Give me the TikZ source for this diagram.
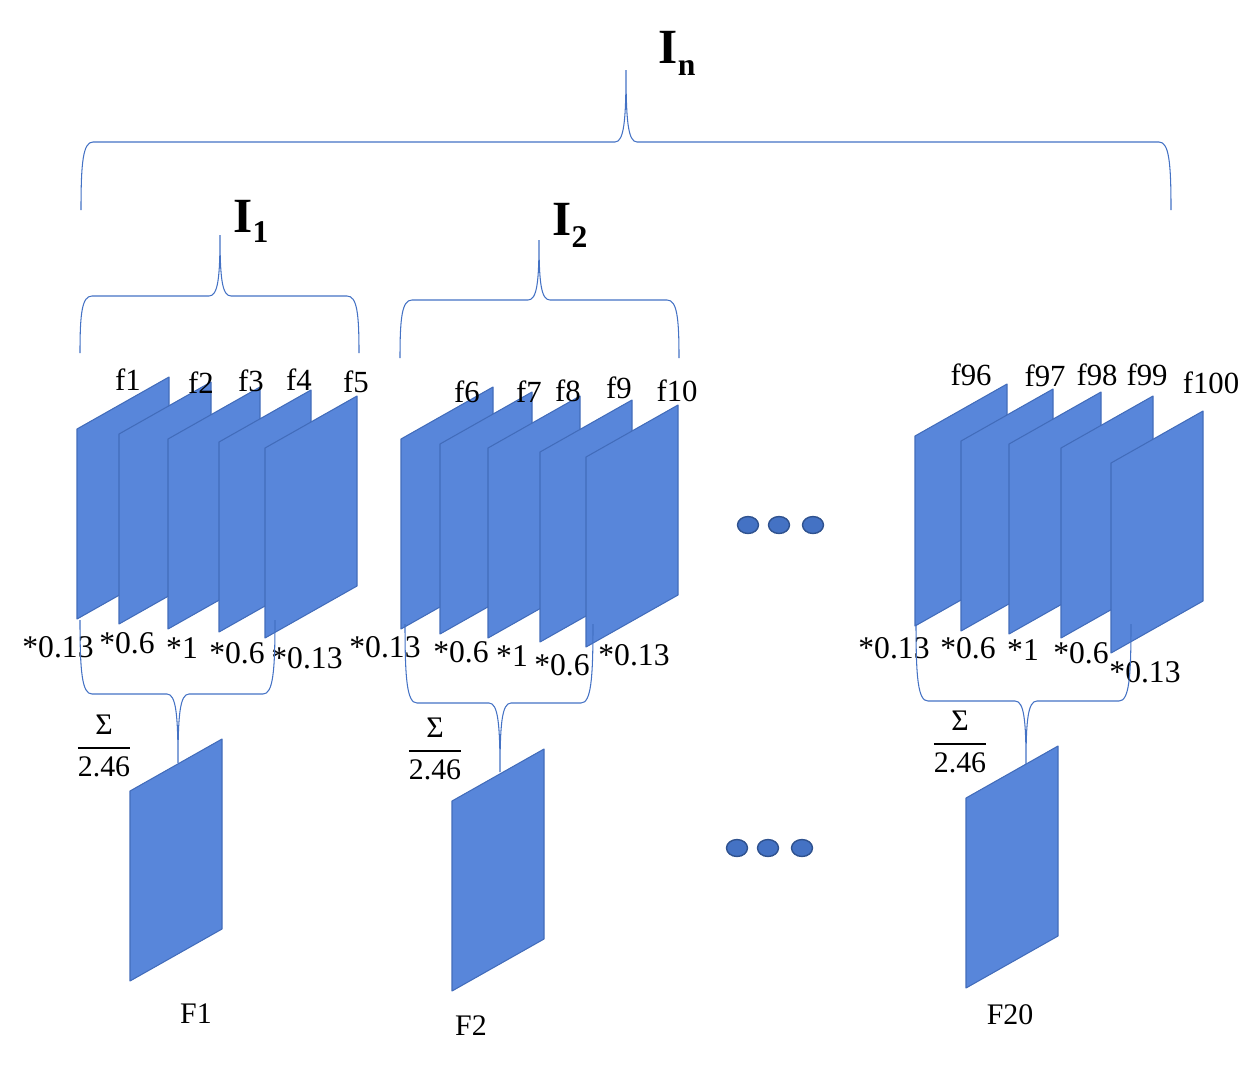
\documentclass[tikz,border=0pt]{standalone}
\usepackage{fontspec}
\setmainfont{Liberation Serif}
\usepackage{amsmath}
\definecolor{plateblue}{RGB}{88,134,218}
\definecolor{plateedge}{RGB}{66,108,186}
\definecolor{braceblue}{RGB}{68,114,196}
\definecolor{dotedge}{RGB}{47,82,143}
\usetikzlibrary{shapes.geometric}

%% one feature map, #1,#2 = upper left corner
\newcommand{\fmap}[2]{\draw[platefill] (#1,#2) -- ++(92,-52) -- ++(0,190) -- ++(-92,52) -- cycle;}
%% curly brace: left x, tip x, right x, arm end y, bar y, tip y
\newcommand{\grpbrace}[6]{%
  \draw[braceline] (#1,#4) .. controls (#1,{#5+0.3*(#4-#5)}) and ({#1+2},#5) .. ({#1+12},#5)
    -- ({#2-11},#5) .. controls ({#2-2},#5) and (#2,{#5+0.3*(#6-#5)}) .. (#2,#6)
    .. controls (#2,{#5+0.3*(#6-#5)}) and ({#2+2},#5) .. ({#2+11},#5)
    -- ({#3-12},#5) .. controls ({#3-2},#5) and (#3,{#5+0.3*(#4-#5)}) .. (#3,#4);}
\newcommand{\avgfrac}{$\displaystyle\genfrac{}{}{1pt}{0}{\text{Σ}}{\text{2.46}}$}

\begin{document}
\begin{tikzpicture}[x=0.02cm, y=-0.02cm,
  platefill/.style={fill=plateblue, draw=plateedge, line width=0.6pt, line join=round},
  braceline/.style={draw=braceblue, line width=0.6pt},
  flab/.style={font=\fontsize{17.5}{20}\selectfont, anchor=base},
  wlab/.style={font=\fontsize{18}{20}\selectfont, anchor=base},
  ilab/.style={font=\fontsize{28}{30}\selectfont\bfseries, anchor=base, inner sep=0pt},
  sumlab/.style={font=\fontsize{17}{20}\selectfont},
  ellipsisdot/.style={ellipse, fill=braceblue, draw=dotedge, line width=0.8pt, minimum width=0.42cm, minimum height=0.34cm, inner sep=0pt}]
  \useasboundingbox (0,0) rectangle (1260,1066);

  %% top braces and their labels
  \grpbrace{81}{626}{1171}{210}{142}{70}
  \grpbrace{80}{220}{359}{353}{296}{235}
  \grpbrace{400}{539}{679}{358}{300}{240}
  \node[ilab] (In) at (677,63) {I\raisebox{-0.25em}{\fontsize{18}{20}\selectfont\bfseries n}};
  \node[ilab] (I1) at (251,232) {I\raisebox{-0.22em}{\fontsize{18}{20}\selectfont\bfseries 1}};
  \node[ilab] (I2) at (570,235) {I\raisebox{-0.25em}{\fontsize{18}{20}\selectfont\bfseries 2}};

  %% feature maps
  \foreach \x/\y in {77/429, 119/434, 168/439, 219/442, 265/448,
                     401/439, 440/444, 488/448, 540/452, 586/457,
                     915/436, 961/441, 1009/444, 1061/448, 1111/463,
                     130/791, 452/801, 966/798}
    {\fmap{\x}{\y}}

  %% frame names
  \foreach \x/\y/\t in {128/390/f1, 201/393/f2, 251/391/f3, 299/390/f4, 356/392/f5,
                        467/402/f6, 529/402/f7, 568/401/f8, 619/398/f9, 677/401/f10,
                        971/385/f96, 1045/386/f97, 1097/385/f98, 1147/385/f99, 1211/393/f100}
    \node[flab] (\t) at (\x,\y) {\t};

  %% weights
  \foreach \x/\y/\t [count=\i] in {58/657/*0.13, 127/653/*0.6, 182/658/*1, 237/663/*0.6, 307/668/*0.13,
                                   385/657/*0.13, 461/662/*0.6, 512/666/*1, 562/675/*0.6, 634/665/*0.13,
                                   894/658/*0.13, 968/658/*0.6, 1023/660/*1, 1081/663/*0.6, 1145/682/*0.13}
    \node[wlab] (w\i) at (\x,\y) {\t};

  %% weighted sums
  \grpbrace{80}{178}{275}{620}{694}{763}
  \grpbrace{405}{500}{593}{624}{703}{772}
  \grpbrace{916}{1026}{1131}{624}{701}{764}
  \node[sumlab] (s1) at (104,746) {\avgfrac};
  \node[sumlab] (s2) at (435,749) {\avgfrac};
  \node[sumlab] (s20) at (960,742) {\avgfrac};

  \node[wlab, font=\fontsize{17}{20}\selectfont] (F1) at (196,1023) {F1};
  \node[wlab, font=\fontsize{17}{20}\selectfont] (F2) at (471,1035) {F2};
  \node[wlab, font=\fontsize{17}{20}\selectfont] (F20) at (1010,1024) {F20};

  %% ellipsis
  \foreach \x [count=\i] in {748,779,813} \node[ellipsisdot] (da\i) at (\x,525) {};
  \foreach \x [count=\i] in {737,768,802} \node[ellipsisdot] (db\i) at (\x,848) {};
\end{tikzpicture}
\end{document}
